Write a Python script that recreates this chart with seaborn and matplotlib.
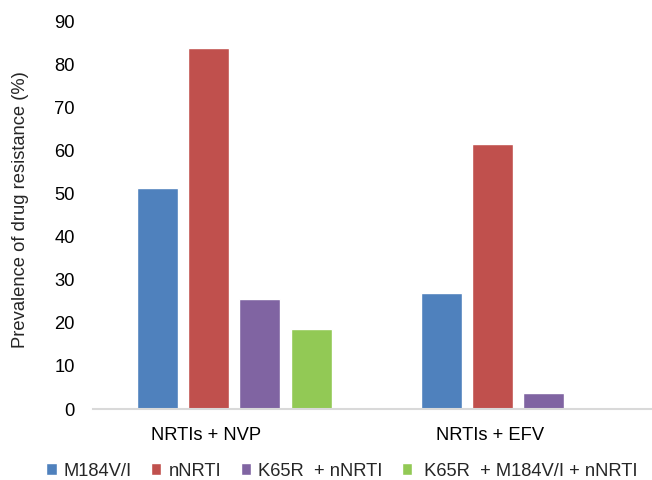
import pandas as pd
import seaborn as sns
import matplotlib.pyplot as plt
import matplotlib.transforms as mtransforms

# data
regimens = ['NRTIs + NVP', 'NRTIs + EFV']
mutations = ['M184V/I', 'nNRTI', 'K65R  + nNRTI', ' K65R  + M184V/I + nNRTI']
m184 = [51.2, 26.8]
nnrti = [83.7, 61.5]
k65r_nnrti = [25.5, 3.7]
k65r_m184_nnrti = [18.5, 0]
colors = ['#4F81BD', '#C0504D', '#8064A2', '#92C955']

rows = []
for mut, vals in zip(mutations, [m184, nnrti, k65r_nnrti, k65r_m184_nnrti]):
    for reg, v in zip(regimens, vals):
        rows.append({'regimen': reg, 'mutation': mut, 'value': v})
df = pd.DataFrame(rows)

sns.set_style('white')
plt.rcParams['font.family'] = ['Liberation Sans', 'DejaVu Sans']
fs = 13.2

fig = plt.figure(figsize=(6.52, 4.8), dpi=100)
ax = fig.add_axes([93/652, 1-409/480, (652-93)/652, (409-21)/480])

sns.barplot(data=df, x='regimen', y='value', hue='mutation', order=regimens,
            hue_order=mutations, palette=colors, width=0.723, gap=0.2,
            saturation=1, ax=ax, legend=True)

ax.set_xlim(-0.498, 1.472)
ax.set_ylim(0, 90)
ax.set_yticks(range(0, 91, 10))
ax.set_xlabel('')
ax.set_ylabel('Prevalence of drug resistance (%)', fontsize=fs)
ax.yaxis.set_label_coords(-0.115, 0.515)
ax.tick_params(axis='both', length=0, labelsize=fs, colors='#000000')
ax.tick_params(axis='y', pad=13)
ax.tick_params(axis='x', pad=13)
for s in ['top', 'right', 'left']:
    ax.spines[s].set_visible(False)
ax.spines['bottom'].set_color('#D9D9D9')
ax.spines['bottom'].set_linewidth(1.5)

# category labels sit a bit left of the bar groups in the original
off = mtransforms.ScaledTranslation(-0.28, 0, fig.dpi_scale_trans)
for lbl in ax.get_xticklabels():
    lbl.set_transform(lbl.get_transform() + off)

ax.legend_.remove()
handles, labels = ax.get_legend_handles_labels()
fig.legend(handles, labels, loc='center', bbox_to_anchor=(342/652, 1-471/480),
           ncol=4, frameon=False, fontsize=fs, handlelength=0.55,
           handleheight=0.55, handletextpad=0.4, columnspacing=1.05,
           borderpad=0, borderaxespad=0)

fig.savefig('out.png', dpi=100)
